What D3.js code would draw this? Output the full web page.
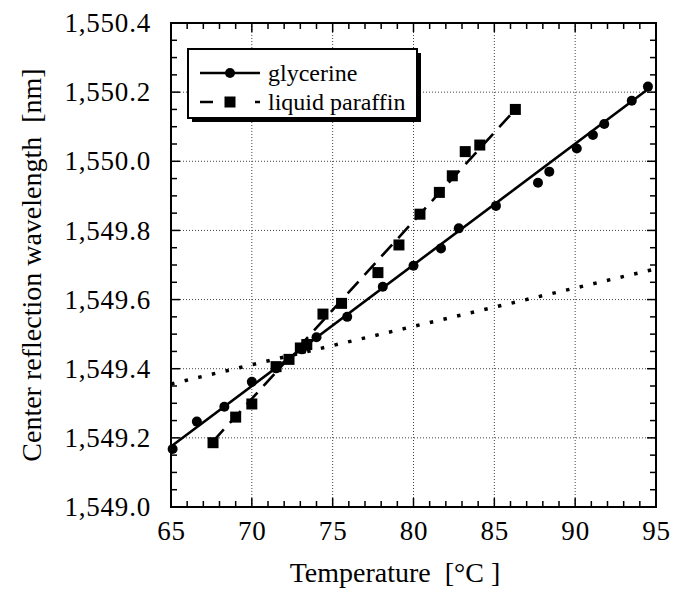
<!DOCTYPE html>
<html>
<head>
<meta charset="utf-8">
<script src="https://cdn.jsdelivr.net/npm/d3@7"></script>
<style>
  body { margin: 0; background: #fff; }
  text { font-family: "Liberation Serif", "Times New Roman", serif; fill: #000; }
</style>
</head>
<body>
<div class="chart"></div>
<script>
// glycerine measurements [temperature, wavelength]
const glycerine = [
  [65.1, 1549.168], [66.6, 1549.247], [68.3, 1549.290], [70.0, 1549.362],
  [71.5, 1549.401], [73.1, 1549.456], [74.0, 1549.491], [75.9, 1549.550],
  [78.1, 1549.637], [80.0, 1549.698], [81.7, 1549.748], [82.8, 1549.806],
  [85.1, 1549.871], [87.7, 1549.938], [88.4, 1549.970], [90.1, 1550.037],
  [91.1, 1550.076], [91.8, 1550.108], [93.5, 1550.175], [94.5, 1550.216]
];

// liquid paraffin measurements
const paraffin = [
  [67.6, 1549.186], [69.0, 1549.260], [70.0, 1549.298], [71.5, 1549.406],
  [72.3, 1549.427], [73.0, 1549.460], [73.4, 1549.470], [74.4, 1549.558],
  [75.55, 1549.589], [77.8, 1549.678], [79.1, 1549.758], [80.4, 1549.847],
  [81.6, 1549.910], [82.4, 1549.958], [83.2, 1550.028], [84.1, 1550.047],
  [86.3, 1550.150]
];

// fitted lines (end points)
const glycerineFit = [[65, 1549.175], [94.6, 1550.212]];
const paraffinFit = [[67.6, 1549.19], [86.3, 1550.15]];
const dottedLine = [[65, 1549.356], [95, 1549.689]];

const xTicks = [65, 70, 75, 80, 85, 90, 95];
const yTicks = [1549.0, 1549.2, 1549.4, 1549.6, 1549.8, 1550.0, 1550.2, 1550.4];
const yTickLabels = ["1,549.0", "1,549.2", "1,549.4", "1,549.6", "1,549.8", "1,550.0", "1,550.2", "1,550.4"];

const W = 673, H = 591;
const margin = { top: 23, right: 17, bottom: 84, left: 171 };
const width = W - margin.left - margin.right,
  height = H - margin.top - margin.bottom;

const svg = d3.select(".chart").append("svg")
  .attr("width", W).attr("height", H);

const g = svg.append("g")
  .attr("transform", "translate(" + margin.left + "," + margin.top + ")");

const x = d3.scaleLinear().domain([65, 95]).range([0, width]);
const y = d3.scaleLinear().domain([1549.0, 1550.4]).range([height, 0]);

// grid
g.append("g").selectAll("line").data(xTicks.slice(1, -1)).join("line")
  .attr("x1", d => x(d)).attr("x2", d => x(d))
  .attr("y1", 0).attr("y2", height)
  .attr("stroke", "#444").attr("stroke-width", 1).attr("stroke-dasharray", "1,2");
g.append("g").selectAll("line").data(yTicks.slice(1, -1)).join("line")
  .attr("y1", d => y(d)).attr("y2", d => y(d))
  .attr("x1", 0).attr("x2", width)
  .attr("stroke", "#444").attr("stroke-width", 1).attr("stroke-dasharray", "1,2");

// minor and major ticks on all four sides
const xMinor = d3.range(65, 95.01, 1);
const yMinor = d3.range(0, 29).map(i => 1549.0 + i * 0.05);
function tickLen(isMajor) { return isMajor ? 9 : 6; }

const ticks = g.append("g").attr("stroke", "#000").attr("stroke-width", 1.5);
xMinor.forEach(v => {
  const L = tickLen(v % 5 === 0);
  ticks.append("line").attr("x1", x(v)).attr("x2", x(v)).attr("y1", height).attr("y2", height - L);
  ticks.append("line").attr("x1", x(v)).attr("x2", x(v)).attr("y1", 0).attr("y2", L);
});
yMinor.forEach((v, i) => {
  const L = tickLen(i % 4 === 0);
  ticks.append("line").attr("y1", y(v)).attr("y2", y(v)).attr("x1", 0).attr("x2", L);
  ticks.append("line").attr("y1", y(v)).attr("y2", y(v)).attr("x1", width).attr("x2", width - L);
});

// axis labels via d3 axes (lines hidden)
const xAxis = g.append("g")
  .attr("transform", "translate(0," + height + ")")
  .call(d3.axisBottom(x).tickValues(xTicks).tickSize(0).tickPadding(14));
const yAxis = g.append("g")
  .call(d3.axisLeft(y).tickValues(yTicks).tickSize(0).tickPadding(20)
    .tickFormat((d, i) => yTickLabels[i]));
[xAxis, yAxis].forEach(a => {
  a.select(".domain").remove();
  a.selectAll("text")
    .style("font-family", "'Liberation Serif', 'Times New Roman', serif")
    .style("font-size", "27px")
    .style("letter-spacing", "0.8px")
    .attr("fill", "#000");
});
xAxis.selectAll("text").attr("dy", "0.71em");

// frame
g.append("rect").attr("width", width).attr("height", height)
  .attr("fill", "none").attr("stroke", "#000").attr("stroke-width", 2);

const line = d3.line().x(d => x(d[0])).y(d => y(d[1]));

// dotted reference line
g.append("path").datum(dottedLine).attr("d", line)
  .attr("fill", "none").attr("stroke", "#000").attr("stroke-width", 3.5)
  .attr("stroke-dasharray", "3.5,10.5");

// fits
g.append("path").datum(glycerineFit).attr("d", line)
  .attr("fill", "none").attr("stroke", "#000").attr("stroke-width", 2.6);
g.append("path").datum(paraffinFit).attr("d", line)
  .attr("fill", "none").attr("stroke", "#000").attr("stroke-width", 2.6)
  .attr("stroke-dasharray", "16,9");

// markers
g.append("g").selectAll("circle").data(glycerine).join("circle")
  .attr("cx", d => x(d[0])).attr("cy", d => y(d[1])).attr("r", 5).attr("fill", "#000");
g.append("g").selectAll("rect").data(paraffin).join("rect")
  .attr("x", d => x(d[0]) - 5.5).attr("y", d => y(d[1]) - 5.5)
  .attr("width", 11).attr("height", 11).attr("fill", "#000");

// legend
const lg = svg.append("g");
lg.append("rect").attr("x", 192).attr("y", 53).attr("width", 229).attr("height", 69).attr("fill", "#000");
lg.append("rect").attr("x", 188).attr("y", 49).attr("width", 229).attr("height", 69)
  .attr("fill", "#fff").attr("stroke", "#000").attr("stroke-width", 2);
lg.append("line").attr("x1", 200).attr("x2", 260).attr("y1", 73).attr("y2", 73)
  .attr("stroke", "#000").attr("stroke-width", 2.6);
lg.append("circle").attr("cx", 230).attr("cy", 73).attr("r", 5).attr("fill", "#000");
lg.append("line").attr("x1", 200).attr("x2", 260).attr("y1", 102).attr("y2", 102)
  .attr("stroke", "#000").attr("stroke-width", 2.6).attr("stroke-dasharray", "13,42");
lg.append("rect").attr("x", 224.5).attr("y", 96.5).attr("width", 11).attr("height", 11).attr("fill", "#000");
lg.append("text").attr("x", 268).attr("y", 81).style("font-size", "24px").text("glycerine");
lg.append("text").attr("x", 268).attr("y", 110).style("font-size", "24px").text("liquid paraffin");

// axis titles
svg.append("text").attr("x", 395).attr("y", 582).attr("text-anchor", "middle")
  .style("font-size", "28px").attr("xml:space", "preserve").text("Temperature  [°C ]");
svg.append("text").attr("transform", "translate(41,265) rotate(-90)").attr("text-anchor", "middle")
  .style("font-size", "28px").attr("xml:space", "preserve").text("Center reflection wavelength  [nm]");
</script>
</body>
</html>
